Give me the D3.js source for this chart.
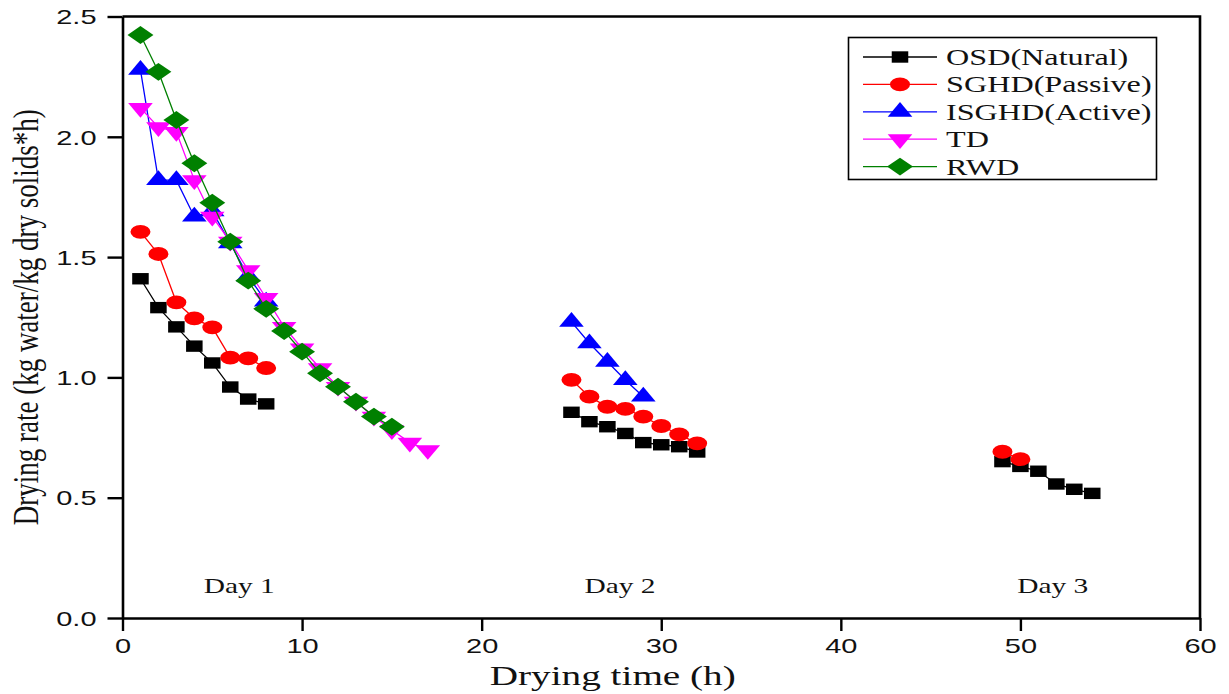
<!DOCTYPE html>
<html>
<head>
<meta charset="UTF-8">
<script src="https://cdn.jsdelivr.net/npm/d3@7"></script>
<style>
  body { margin: 0; background: #fff; }
  svg { display: block; }
</style>
</head>
<body>
<div id="container"></div>
<script>
// ---- data ----
const seriesNames = ["OSD(Natural)", "SGHD(Passive)", "ISGHD(Active)", "TD", "RWD"];

const osdHours = [1, 2, 3, 4, 5, 6, 7, 8, 25, 26, 27, 28, 29, 30, 31, 32, 49, 50, 51, 52, 53, 54];
const osdRate = [1.41, 1.29, 1.21, 1.13, 1.06, 0.96, 0.91, 0.89,
                 0.855, 0.816, 0.795, 0.767, 0.729, 0.72, 0.712, 0.69,
                 0.65, 0.63, 0.61, 0.557, 0.535, 0.518];

const sghdHours = [1, 2, 3, 4, 5, 6, 7, 8, 25, 26, 27, 28, 29, 30, 31, 32, 49, 50];
const sghdRate = [1.605, 1.513, 1.312, 1.245, 1.208, 1.082, 1.079, 1.039,
                  0.99, 0.92, 0.878, 0.869, 0.837, 0.798, 0.763, 0.726,
                  0.691, 0.66];

const isghdHours = [1, 2, 3, 4, 5, 6, 7, 8, 25, 26, 27, 28, 29];
const isghdRate = [2.278, 1.82, 1.82, 1.668, 1.69, 1.557, 1.42, 1.315,
                   1.231, 1.142, 1.065, 0.989, 0.92];

const tdHours = [1, 2, 3, 4, 5, 6, 7, 8, 9, 10, 11, 12, 13, 14, 15, 16, 17];
const tdRate = [2.12, 2.04, 2.02, 1.82, 1.668, 1.564, 1.446, 1.33, 1.21,
                1.12, 1.038, 0.961, 0.899, 0.837, 0.781, 0.729, 0.698];

const rwdHours = [1, 2, 3, 4, 5, 6, 7, 8, 9, 10, 11, 12, 13, 14, 15];
const rwdRate = [2.423, 2.27, 2.07, 1.89, 1.726, 1.564, 1.402, 1.285,
                 1.193, 1.107, 1.017, 0.961, 0.899, 0.837, 0.795];

const xTicks = [0, 10, 20, 30, 40, 50, 60];
const yTicks = [0, 0.5, 1.0, 1.5, 2.0, 2.5];
const dayLabels = ["Day 1", "Day 2", "Day 3"];
const dayHours = [6.5, 27.7, 51.8];

// ---- layout ----
const width = 1229, height = 694;
const margin = { top: 16.5, right: 29, bottom: 76, left: 122.5 };
const sx = 1.45;   // the picture is stretched sideways, so text and marks are too

const svg = d3.select("#container").append("svg")
  .attr("width", width).attr("height", height);

const x = d3.scaleLinear().domain([0, 60]).range([margin.left, width - margin.right]);
const y = d3.scaleLinear().domain([0, 2.5]).range([height - margin.bottom, margin.top]);

const colors = ["#000000", "#ff0000", "#0000ff", "#ff00ff", "#008000"];

// marker paths (drawn before the sideways stretch)
const markerPath = [
  d3.symbol(d3.symbolSquare, 130)(),
  d3.symbol(d3.symbolCircle, 150)(),
  d3.symbol(d3.symbolTriangle, 125)(),
  d3.symbol(d3.symbolTriangle, 125)(),
  d3.symbol(d3.symbolSquare, 160)()
];
const markerRot = [0, 0, 0, 180, 45];

const series = [
  [osdHours, osdRate],
  [sghdHours, sghdRate],
  [isghdHours, isghdRate],
  [tdHours, tdRate],
  [rwdHours, rwdRate]
];

// ---- axes ----
const yAxis = d3.axisLeft(y).tickValues(yTicks).tickFormat(d3.format(".1f"))
  .tickSize(15).tickSizeOuter(0);
const xAxis = d3.axisBottom(x).tickValues(xTicks).tickFormat(d3.format("d"))
  .tickSize(13).tickSizeOuter(0);

const gy = svg.append("g").attr("transform", `translate(${margin.left},0)`).call(yAxis);
const gx = svg.append("g").attr("transform", `translate(0,${height - margin.bottom})`).call(xAxis);

[gx, gy].forEach(g => {
  g.select(".domain").attr("stroke-width", 2.6);
  g.selectAll(".tick line").attr("stroke-width", 2.4);
  g.selectAll("text")
    .attr("font-family", "'Liberation Sans', Arial, sans-serif")
    .attr("font-size", 20)
    .attr("fill", "#111");
});
gy.selectAll("text").attr("x", -26 / sx).attr("dy", "0.36em")
  .attr("transform", `scale(${sx},1)`);
gx.selectAll("text").attr("y", 21).attr("transform", `scale(${sx},1)`);

// top and right frame
svg.append("path")
  .attr("d", `M${x(0)},${y(2.5)}H${x(60)}V${y(0)}`)
  .attr("fill", "none").attr("stroke", "#000").attr("stroke-width", 2.6);

// ---- series ----
const line = d3.line().x(d => x(d[0])).y(d => y(d[1]));

series.forEach(([hours, rates], i) => {
  const pts = hours.map((h, j) => [h, rates[j]]);
  // break the line where the hours jump (a new day)
  const segs = [];
  pts.forEach((p, j) => {
    if (j === 0 || p[0] - pts[j - 1][0] > 1) segs.push([]);
    segs[segs.length - 1].push(p);
  });
  const g = svg.append("g");
  segs.forEach(s => {
    g.append("path").attr("d", line(s))
      .attr("fill", "none").attr("stroke", colors[i]).attr("stroke-width", 1.3);
  });
  g.selectAll(".m").data(pts).enter().append("path")
    .attr("d", markerPath[i])
    .attr("fill", colors[i])
    .attr("transform", d => `translate(${x(d[0])},${y(d[1])}) scale(${sx},1) rotate(${markerRot[i]})`);
});

// ---- day labels ----
svg.selectAll(".day").data(dayLabels).enter().append("text")
  .attr("transform", (d, i) => `translate(${x(dayHours[i])},593) scale(1.4,1)`)
  .attr("text-anchor", "middle")
  .attr("font-family", "'Liberation Serif', 'Times New Roman', serif")
  .attr("font-size", 21)
  .attr("fill", "#111")
  .text(d => d);

// ---- axis titles ----
svg.append("text")
  .attr("transform", `translate(${x(27.3)},685) scale(1.48,1)`)
  .attr("text-anchor", "middle")
  .attr("font-family", "'Liberation Serif', 'Times New Roman', serif")
  .attr("font-size", 26.5)
  .attr("fill", "#111")
  .text("Drying time (h)");

svg.append("text")
  .attr("transform", `translate(38,${(y(0) + y(2.5)) / 2}) rotate(-90) scale(1,1.35)`)
  .attr("text-anchor", "middle")
  .attr("font-family", "'Liberation Serif', 'Times New Roman', serif")
  .attr("font-size", 27)
  .attr("fill", "#111")
  .text("Drying rate (kg water/kg dry solids*h)");

// ---- legend ----
const legend = svg.append("g");
legend.append("rect")
  .attr("x", 848.5).attr("y", 37.5).attr("width", 308).attr("height", 142)
  .attr("fill", "#fff").attr("stroke", "#000").attr("stroke-width", 1.6);

seriesNames.forEach((name, i) => {
  const ly = 57 + i * 27.4;
  legend.append("line")
    .attr("x1", 863).attr("x2", 937).attr("y1", ly).attr("y2", ly)
    .attr("stroke", colors[i]).attr("stroke-width", 1.3);
  legend.append("path")
    .attr("d", markerPath[i]).attr("fill", colors[i])
    .attr("transform", `translate(900,${ly}) scale(${sx},1) rotate(${markerRot[i]})`);
  legend.append("text")
    .attr("transform", `translate(946,${ly + 8}) scale(1.4,1)`)
    .attr("font-family", "'Liberation Serif', 'Times New Roman', serif")
    .attr("font-size", 23)
    .attr("fill", "#111")
    .text(name);
});
</script>
</body>
</html>
